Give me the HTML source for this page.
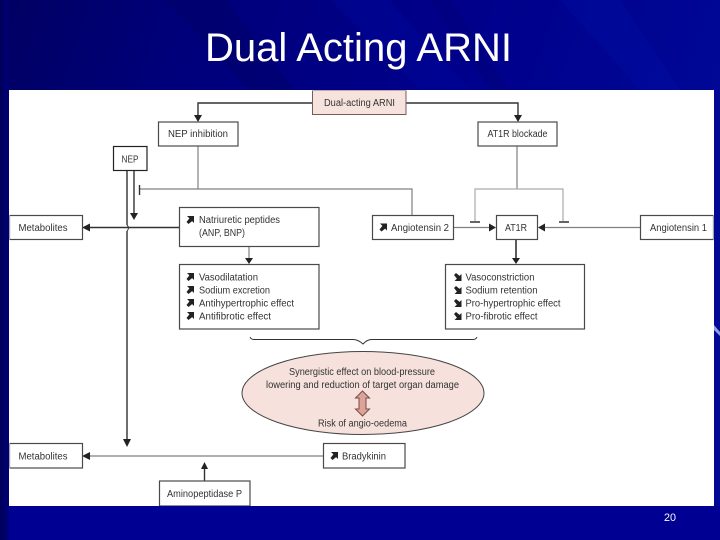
<!DOCTYPE html>
<html><head><meta charset="utf-8"><style>
html,body{margin:0;padding:0;width:720px;height:540px;overflow:hidden;background:#00008f}
svg{display:block}
text{font-family:"Liberation Sans",sans-serif;fill:#333;font-size:10px}
.b{fill:#fff;stroke:#4a4a4a;stroke-width:1.2}
.l{fill:none;stroke:#333;stroke-width:1.4}
.g{fill:none;stroke:#808080;stroke-width:1.2}
.a{fill:#222}
</style></head><body>
<svg width="720" height="540" viewBox="0 0 720 540" xmlns="http://www.w3.org/2000/svg">
<defs>
<linearGradient id="bg" x1="0" y1="0" x2="1" y2="0.25">
<stop offset="0" stop-color="#000062"/><stop offset=".25" stop-color="#00007a"/><stop offset=".6" stop-color="#00008a"/><stop offset="1" stop-color="#000896"/>
</linearGradient>
<linearGradient id="lft" x1="0" y1="0" x2="1" y2="0">
<stop offset="0" stop-color="#000058"/><stop offset="1" stop-color="#000078"/>
</linearGradient>
<filter id="soft" x="0" y="0" width="100%" height="100%"><feGaussianBlur stdDeviation="0.3"/></filter>
<path id="ne" d="M0.500 0H7.500V7L5.600 5.100L2 8L0 6L2.900 2.400Z"/>
<path id="se" d="M0.500 8H7.500V1L5.600 2.900L2 0L0 2L2.900 5.600Z"/>
</defs>
<rect width="720" height="540" fill="url(#bg)"/>
<rect y="506" width="720" height="34" fill="#000092"/>
<rect width="9" height="540" fill="url(#lft)"/>
<path d="M165 0L225 0L295 90L250 90Z" fill="#00005a" opacity=".3"/>
<path d="M330 0L390 0L470 90L420 90Z" fill="#000ca8" opacity=".25"/>
<path d="M430 0L450 0L510 90L490 90Z" fill="#000060" opacity=".2"/>
<path d="M560 0L620 0L680 90L640 90Z" fill="#0012b0" opacity=".25"/>
<path d="M714 325L720 332L720 336L714 330Z" fill="#8f9fe0"/>
<text x="358.500" y="61" text-anchor="middle" textLength="307" lengthAdjust="spacingAndGlyphs" style="font-size:40px;fill:#fff">Dual Acting ARNI</text>

<rect x="9" y="90" width="705" height="416" fill="#fff"/>
<g filter="url(#soft)">
<!-- top connectors -->
<path class="l" d="M312 103H198V118"/><path class="a" d="M194 115H202L198 122Z"/>
<path class="l" d="M406 103H518V118"/><path class="a" d="M514 115H522L518 122Z"/>
<path class="g" d="M198 146V189"/>
<path class="g" d="M140 189H412V215"/>
<path class="l" d="M139.500 185V195"/>
<path class="g" d="M517 146V189"/>
<path class="g" d="M475 221V189H563V221" style="stroke:#aaa"/>
<path class="l" d="M470 222H480M559 222H569"/>
<!-- NEP lines -->
<path class="l" d="M127 170V225M127 231V440"/>
<path class="l" d="M127 225Q130 228 127 231" style="stroke-width:1"/>
<path class="l" d="M134 170V214"/><path class="a" d="M130 213H138L134 220Z"/>
<path class="a" d="M123 439H131L127 447Z"/>
<!-- metabolites row -->
<path class="l" d="M179 227.500H88"/><path class="a" d="M90 223.500V231.500L82 227.500Z"/>
<path class="g" d="M249 246V260"/><path class="a" d="M245 258H253L249 264Z"/>
<path class="g" d="M453 227.500H490"/><path class="a" d="M489 223.500V231.500L496 227.500Z"/>
<path class="g" d="M640 227.500H543"/><path class="a" d="M545 223.500V231.500L538 227.500Z"/>
<path class="l" d="M516 239V259" style="stroke-width:1.6"/><path class="a" d="M512 258H520L516 264Z"/>
<!-- bottom -->
<path class="g" d="M323 456H88"/><path class="a" d="M90 452V460L82 456Z"/>
<path class="l" d="M204.500 481V468"/><path class="a" d="M201 469H208L204.500 462Z"/>
<!-- brace -->
<path class="l" d="M250 337Q251 339.500 254 339.500H353Q358 339.500 363 344Q367 339.500 372 339.500H473Q476 339.500 477 337" style="stroke-width:1"/>

<!-- boxes -->
<rect x="312.500" y="90.500" width="93.500" height="24" fill="#f6e3de" stroke="#7a5a55" stroke-width="1"/>
<text x="324" y="106" textLength="71" lengthAdjust="spacingAndGlyphs">Dual-acting ARNI</text>
<rect class="b" x="158.500" y="122" width="79.500" height="24"/>
<text x="168" y="137" textLength="60" lengthAdjust="spacingAndGlyphs">NEP inhibition</text>
<rect class="b" x="113.500" y="146.500" width="33.500" height="24" style="stroke:#222"/>
<text x="121.500" y="162.500" textLength="17" lengthAdjust="spacingAndGlyphs">NEP</text>
<rect class="b" x="478" y="122" width="79" height="24"/>
<text x="487.500" y="137" textLength="60" lengthAdjust="spacingAndGlyphs">AT1R blockade</text>
<rect class="b" x="9.500" y="215.500" width="73" height="24"/>
<text x="18.500" y="231" textLength="49" lengthAdjust="spacingAndGlyphs">Metabolites</text>
<rect class="b" x="179.500" y="207.500" width="139.500" height="39"/>
<text x="199" y="223" textLength="81" lengthAdjust="spacingAndGlyphs">Natriuretic peptides</text>
<text x="199" y="236" textLength="46" lengthAdjust="spacingAndGlyphs">(ANP, BNP)</text>
<use href="#ne" x="186.500" y="216" class="a"/>
<rect class="b" x="179.500" y="264.500" width="139.500" height="64.500"/>
<text x="199" y="280.500" textLength="59" lengthAdjust="spacingAndGlyphs">Vasodilatation</text>
<text x="199" y="293.500" textLength="71" lengthAdjust="spacingAndGlyphs">Sodium excretion</text>
<text x="199" y="306.500" textLength="95" lengthAdjust="spacingAndGlyphs">Antihypertrophic effect</text>
<text x="199" y="319.500" textLength="72" lengthAdjust="spacingAndGlyphs">Antifibrotic effect</text>
<use href="#ne" x="186.500" y="273" class="a"/>
<use href="#ne" x="186.500" y="286" class="a"/>
<use href="#ne" x="186.500" y="299" class="a"/>
<use href="#ne" x="186.500" y="312" class="a"/>
<rect class="b" x="372.500" y="215.500" width="81" height="24"/>
<text x="391" y="231" textLength="58" lengthAdjust="spacingAndGlyphs">Angiotensin 2</text>
<use href="#ne" x="379.500" y="223.500" class="a"/>
<rect class="b" x="496.500" y="215.500" width="41" height="24"/>
<text x="505" y="231" textLength="22" lengthAdjust="spacingAndGlyphs">AT1R</text>
<rect class="b" x="640.500" y="215.500" width="73" height="24"/>
<text x="650" y="231" textLength="57" lengthAdjust="spacingAndGlyphs">Angiotensin 1</text>
<rect class="b" x="445.500" y="264.500" width="139" height="64.500"/>
<text x="465.500" y="280.500" textLength="69" lengthAdjust="spacingAndGlyphs">Vasoconstriction</text>
<text x="465.500" y="293.500" textLength="72" lengthAdjust="spacingAndGlyphs">Sodium retention</text>
<text x="465.500" y="306.500" textLength="95" lengthAdjust="spacingAndGlyphs">Pro-hypertrophic effect</text>
<text x="465.500" y="319.500" textLength="72" lengthAdjust="spacingAndGlyphs">Pro-fibrotic effect</text>
<use href="#se" x="454" y="273" class="a"/>
<use href="#se" x="454" y="286" class="a"/>
<use href="#se" x="454" y="299" class="a"/>
<use href="#se" x="454" y="312" class="a"/>

<ellipse cx="363" cy="393" rx="121" ry="41.500" fill="#f6e1dc" stroke="#444" stroke-width="1"/>
<text x="289" y="375" textLength="146" lengthAdjust="spacingAndGlyphs">Synergistic effect on blood-pressure</text>
<text x="266" y="388" textLength="193" lengthAdjust="spacingAndGlyphs">lowering and reduction of target organ damage</text>
<path d="M362.500 391L369.500 398H366V409H369.500L362.500 416L355.500 409H359V398H355.500Z" fill="#dca39b" stroke="#7a4a45" stroke-width="1"/>
<text x="318" y="426.500" textLength="89" lengthAdjust="spacingAndGlyphs">Risk of angio-oedema</text>

<rect class="b" x="9.500" y="443.500" width="73" height="24.500"/>
<text x="18.500" y="459.500" textLength="49" lengthAdjust="spacingAndGlyphs">Metabolites</text>
<rect class="b" x="323.500" y="443.500" width="81.500" height="24.500"/>
<text x="342" y="459.500" textLength="44" lengthAdjust="spacingAndGlyphs">Bradykinin</text>
<use href="#ne" x="330.500" y="452" class="a"/>
<rect class="b" x="159.500" y="481" width="90.500" height="25"/>
<text x="167" y="497" textLength="75" lengthAdjust="spacingAndGlyphs">Aminopeptidase P</text>
</g>
<text x="664" y="521" textLength="12" lengthAdjust="spacingAndGlyphs" style="font-size:11px;fill:#fff">20</text>
</svg>
</body></html>
